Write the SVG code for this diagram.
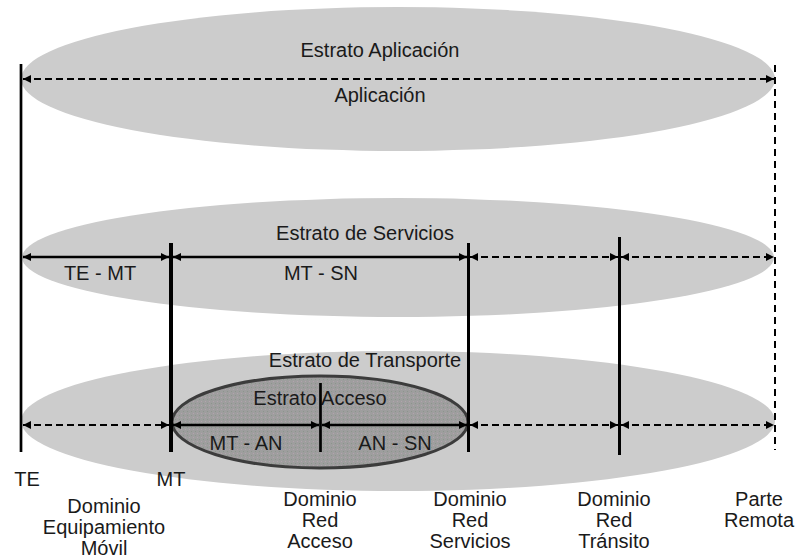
<svg xmlns="http://www.w3.org/2000/svg" width="800" height="560" viewBox="0 0 800 560">
  <style>
    .stratum { fill: #cccccc; stroke: none; }
    .txt { font-family: "Liberation Sans", Arial, sans-serif; font-size: 20px; fill: #1a1a1a; text-anchor: middle; }
    .bound { stroke: #000; fill: none; }
    .solid { stroke: #000; stroke-width: 2.5; fill: none; marker-start: url(#head); marker-end: url(#head); }
    .dash { stroke: #000; stroke-width: 2; stroke-dasharray: 7 4; fill: none; marker-start: url(#head); marker-end: url(#head); }
  </style>
  <defs>
    <marker id="head" viewBox="0 0 10 10" refX="10" refY="5" markerWidth="9" markerHeight="8" markerUnits="userSpaceOnUse" orient="auto-start-reverse">
      <path d="M0,0 L10,5 L0,10 z" fill="#000"/>
    </marker>
    <!-- speckled fill for the access stratum -->
    <pattern id="stipple" width="4" height="4" patternUnits="userSpaceOnUse">
      <rect width="4" height="4" fill="#9e9e9e"/>
      <rect x="1" y="1" width="1" height="1" fill="#b3a3ad"/>
      <rect x="3" y="3" width="1" height="1" fill="#8c958c"/>
    </pattern>
  </defs>

  <rect width="800" height="560" fill="#ffffff"/>

  <!-- strata -->
  <g id="estrato-aplicacion">
    <ellipse class="stratum" cx="398" cy="79" rx="377" ry="72"/>
    <text class="txt" x="380" y="57">Estrato Aplicación</text>
  </g>
  <g id="estrato-servicios">
    <ellipse class="stratum" cx="398" cy="257.5" rx="376" ry="59.5"/>
    <text class="txt" x="365" y="240">Estrato de Servicios</text>
  </g>
  <g id="estrato-transporte">
    <ellipse class="stratum" cx="398" cy="421" rx="377" ry="70"/>
    <text class="txt" x="365" y="367">Estrato de Transporte</text>
  </g>
  <g id="estrato-acceso">
    <ellipse cx="320" cy="422" rx="148" ry="46" fill="url(#stipple)" stroke="#3c3c3c" stroke-width="3"/>
    <text class="txt" x="320" y="405">Estrato Acceso</text>
  </g>

  <!-- domain boundaries -->
  <g id="fronteras">
    <line class="bound" x1="21" y1="64" x2="21" y2="452" stroke-width="2.7"/>
    <line class="bound" x1="171" y1="243" x2="171" y2="452" stroke-width="4"/>
    <line class="bound" x1="320.5" y1="383" x2="320.5" y2="452" stroke-width="2.7"/>
    <line class="bound" x1="468.5" y1="243" x2="468.5" y2="452" stroke-width="3"/>
    <line class="bound" x1="619.5" y1="237" x2="619.5" y2="455" stroke-width="3"/>
    <line class="bound" x1="775" y1="65" x2="775" y2="450" stroke-width="2" stroke-dasharray="7 5"/>
  </g>

  <!-- reference points between domains -->
  <g id="connectors">
    <line class="dash" x1="23" y1="79" x2="774" y2="79"/>

    <line class="solid" x1="23" y1="257" x2="169" y2="257"/>
    <line class="solid" x1="173" y1="257" x2="467" y2="257"/>
    <line class="dash" x1="470" y1="257" x2="618" y2="257"/>
    <line class="dash" x1="621" y1="257" x2="774" y2="257"/>

    <line class="dash" x1="23" y1="425" x2="169" y2="425"/>
    <line class="solid" x1="173" y1="425" x2="319" y2="425"/>
    <line class="solid" x1="322" y1="425" x2="467" y2="425"/>
    <line class="dash" x1="470" y1="425" x2="618" y2="425"/>
    <line class="dash" x1="621" y1="425" x2="774" y2="425"/>
  </g>

  <!-- interface labels -->
  <g id="interfaces">
    <text class="txt" x="380" y="102">Aplicación</text>
    <text class="txt" x="100" y="280">TE - MT</text>
    <text class="txt" x="321" y="280">MT - SN</text>
    <text class="txt" x="246" y="450">MT - AN</text>
    <text class="txt" x="395" y="450">AN - SN</text>
  </g>

  <!-- equipment and domain names -->
  <g id="dominios">
    <text class="txt" x="27" y="486">TE</text>
    <text class="txt" x="171" y="486">MT</text>
    <text class="txt" x="104"><tspan x="104" y="513">Dominio</tspan><tspan x="104" y="534">Equipamiento</tspan><tspan x="104" y="555">Móvil</tspan></text>
    <text class="txt" x="320"><tspan x="320" y="506">Dominio</tspan><tspan x="320" y="527">Red</tspan><tspan x="320" y="548">Acceso</tspan></text>
    <text class="txt" x="470"><tspan x="470" y="506">Dominio</tspan><tspan x="470" y="527">Red</tspan><tspan x="470" y="548">Servicios</tspan></text>
    <text class="txt" x="614"><tspan x="614" y="506">Dominio</tspan><tspan x="614" y="527">Red</tspan><tspan x="614" y="548">Tránsito</tspan></text>
    <text class="txt" x="759"><tspan x="759" y="506">Parte</tspan><tspan x="759" y="527">Remota</tspan></text>
  </g>
</svg>
